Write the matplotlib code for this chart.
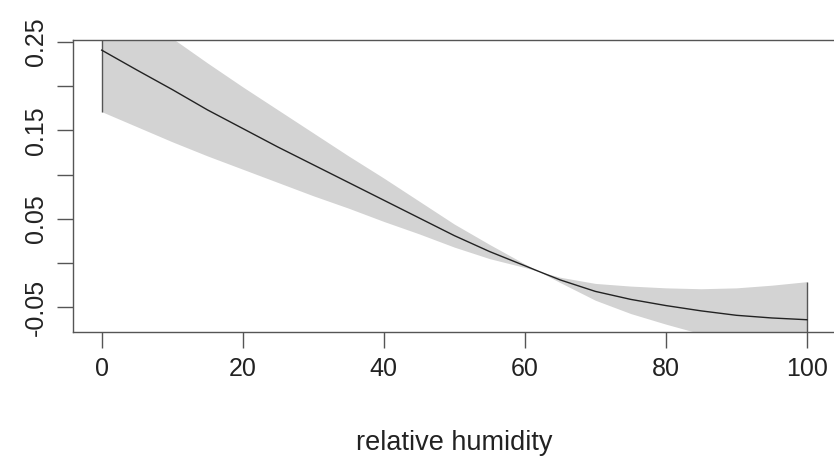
import matplotlib
matplotlib.use("Agg")
import matplotlib.pyplot as plt

plt.rcParams['font.family'] = ['Liberation Sans', 'DejaVu Sans']

# term plot: relative humidity effect with confidence band
humidity = [0, 5, 10, 15, 20, 25, 30, 35, 40, 45, 50, 55, 60, 62,
            65, 70, 75, 80, 85, 90, 95, 100]
fit = [0.2405, 0.218, 0.196, 0.173, 0.152, 0.131, 0.111, 0.091, 0.071, 0.051,
       0.031, 0.013, -0.003, -0.0095, -0.019, -0.032, -0.041, -0.048, -0.054,
       -0.059, -0.062, -0.064]
upper = [0.310, 0.282, 0.254, 0.226, 0.199, 0.173, 0.147, 0.121, 0.096, 0.070,
         0.044, 0.021, -0.001, -0.0095, -0.016, -0.023, -0.026, -0.028, -0.029,
         -0.028, -0.025, -0.021]
lower = [0.171, 0.154, 0.137, 0.121, 0.106, 0.091, 0.076, 0.062, 0.047, 0.033,
         0.018, 0.005, -0.005, -0.0095, -0.022, -0.042, -0.057, -0.069, -0.080,
         -0.090, -0.099, -0.107]

x_ticks = [0, 20, 40, 60, 80, 100]
y_ticks = [-0.05, 0.0, 0.05, 0.10, 0.15, 0.20, 0.25]
y_labels = ['-0.05', '', '0.05', '', '0.15', '', '0.25']

fig = plt.figure(figsize=(8.34, 4.61), dpi=100)
ax = fig.add_axes([0.0881, 0.2809, 0.9133, 0.6334])

ax.fill_between(humidity, lower, upper, color='#d3d3d3', linewidth=0)
ax.vlines([humidity[0], humidity[-1]], [lower[0], lower[-1]],
          [upper[0], upper[-1]], color='#555555', linewidth=1.0)
ax.plot(humidity, fit, color='#222222', linewidth=1.0)

ax.set_xlim(-4, 104)
ax.set_ylim(-0.0773, 0.2525)

ax.set_xticks(x_ticks)
ax.set_xticklabels([str(v) for v in x_ticks])
ax.set_yticks(y_ticks)
ax.set_yticklabels(y_labels, rotation=90, va='center')

for s in ax.spines.values():
    s.set_color('#555555')
    s.set_linewidth(1.0)
ax.tick_params(axis='both', direction='out', length=11.5, width=1.0,
               color='#555555', labelsize=18, labelcolor='#222222')
ax.tick_params(axis='x', pad=7)
ax.tick_params(axis='y', pad=7)

ax.set_xlabel('relative humidity', fontsize=19.5, color='#222222', labelpad=35)

fig.savefig('out.png', dpi=100)
